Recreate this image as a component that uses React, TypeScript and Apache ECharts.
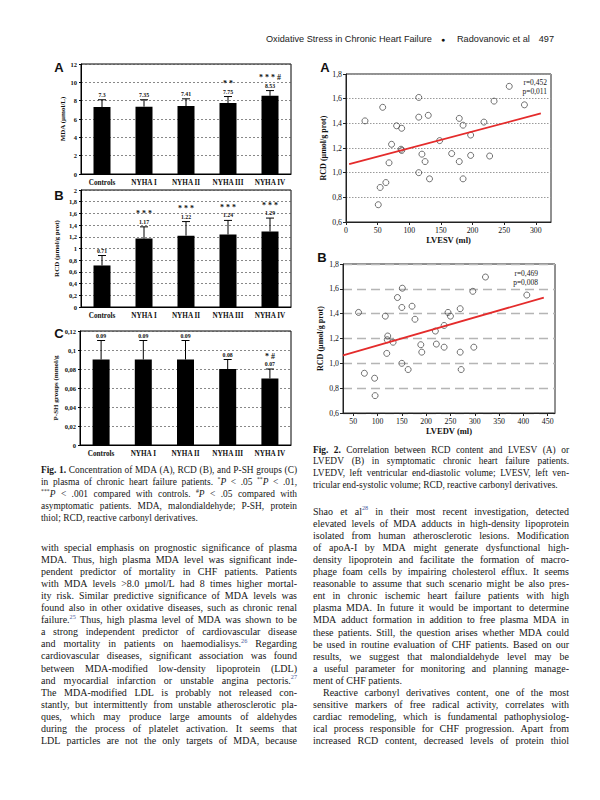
import React, { useEffect, useRef } from 'react';
import * as echarts from 'echarts';

// ---------- data ----------
const categories = ['Controls', 'NYHA I', 'NYHA II', 'NYHA III', 'NYHA IV'];

const mdaMean = [7.3, 7.35, 7.41, 7.75, 8.53];
const mdaErrTop = [8.1, 8.1, 8.2, 8.45, 9.1];
const mdaSig = ['', '', '', '* *', '* * * #'];
const mdaTicks = { max: 12, interval: 2 };

const rcdMean = [0.71, 1.17, 1.22, 1.24, 1.29];
const rcdErrTop = [0.88, 1.37, 1.46, 1.48, 1.52];
const rcdSig = ['', '* * *', '* * *', '* * *', '* * *'];
const rcdTicks = { max: 2, interval: 0.2 };

const pshMean = [0.09, 0.09, 0.09, 0.08, 0.07];
const pshErrTop = [0.11, 0.11, 0.11, 0.09, 0.08];
const pshSig = ['', '', '', '', '* #'];
const pshTicks = { max: 0.12, interval: 0.02 };

const lvesvX = [30, 58, 115, 115, 130, 80, 88, 72, 87, 88, 120, 68, 125, 115, 132, 148, 167, 179, 185, 179, 185, 197, 197, 218, 227, 234, 258, 282, 54, 63, 51];
const lvesvY = [1.42, 1.53, 1.61, 1.45, 1.465, 1.38, 1.36, 1.23, 1.19, 1.18, 1.15, 1.08, 1.09, 1.0, 0.95, 1.26, 1.155, 1.44, 1.385, 1.09, 0.95, 1.305, 1.14, 1.41, 1.135, 1.58, 1.7, 1.55, 0.88, 0.92, 0.74];
const fitAX = [5, 308];
const fitAY = [1.07, 1.48];
const statA = ['r=0,452', 'p=0,011'];

const lvedvX = [61, 116, 121, 120, 132, 119, 141, 151, 150, 171, 177, 150, 163, 189, 191, 219, 221, 237, 237, 245, 250, 270, 270, 272, 296, 298, 322, 407, 73, 94, 95];
const lvedvY = [1.41, 1.38, 1.22, 1.19, 1.17, 1.08, 1.53, 1.605, 1.45, 1.46, 1.355, 1.0, 0.95, 1.15, 1.09, 1.26, 1.155, 1.305, 1.13, 1.41, 1.38, 1.44, 1.09, 0.95, 1.58, 1.13, 1.695, 1.55, 0.92, 0.88, 0.74];
const fitBX = [29, 442];
const fitBY = [1.064, 1.53];
const statB = ['r=0,469', 'p=0,008'];

// ---------- page text ----------
const headerTitle = 'Oxidative Stress in Chronic Heart Failure';
const headerAuthors = 'Radovanovic et al';
const headerPage = '497';

const fig1Caption = [
  '|Fig.| |1.| Concentration of MDA (A), RCD (B), and P-SH groups (C)',
  'in plasma of chronic heart failure patients. ^*^~P~ < .05 ^**^~P~ < .01,',
  '^***^~P~ < .001 compared with controls. ^#^~P~ < .05 compared with',
  'asymptomatic patients. MDA, malondialdehyde; P-SH, protein',
  'thiol; RCD, reactive carbonyl derivatives.$',
];

const fig2Caption = [
  '|Fig.| |2.| Correlation between RCD content and LVESV (A) or',
  'LVEDV (B) in symptomatic chronic heart failure patients.',
  'LVEDV, left ventricular end-diastolic volume; LVESV, left ven-',
  'tricular end-systolic volume; RCD, reactive carbonyl derivatives.$',
];

const leftBody = [
  'with special emphasis on prognostic significance of plasma',
  'MDA. Thus, high plasma MDA level was significant inde-',
  'pendent predictor of mortality in CHF patients. Patients',
  'with MDA levels >8.0 µmol/L had 8 times higher mortal-',
  'ity risk. Similar predictive significance of MDA levels was',
  'found also in other oxidative diseases, such as chronic renal',
  'failure.^25^ Thus, high plasma level of MDA was shown to be',
  'a strong independent predictor of cardiovascular disease',
  'and mortality in patients on haemodialisys.^26^ Regarding',
  'cardiovascular diseases, significant association was found',
  'between MDA-modified low-density lipoprotein (LDL)',
  'and myocardial infarction or unstable angina pectoris.^27^',
  'The MDA-modified LDL is probably not released con-',
  'stantly, but intermittently from unstable atherosclerotic pla-',
  'ques, which may produce large amounts of aldehydes',
  'during the process of platelet activation. It seems that',
  'LDL particles are not the only targets of MDA, because',
];

const rightBody = [
  'Shao et al^28^ in their most recent investigation, detected',
  'elevated levels of MDA adducts in high-density lipoprotein',
  'isolated from human atherosclerotic lesions. Modification',
  'of apoA-I by MDA might generate dysfunctional high-',
  'density lipoprotein and facilitate the formation of macro-',
  'phage foam cells by impairing cholesterol efflux. It seems',
  'reasonable to assume that such scenario might be also pres-',
  'ent in chronic ischemic heart failure patients with high',
  'plasma MDA. In future it would be important to determine',
  'MDA adduct formation in addition to free plasma MDA in',
  'these patients. Still, the question arises whether MDA could',
  'be used in routine evaluation of CHF patients. Based on our',
  'results, we suggest that malondialdehyde level may be',
  'a useful parameter for monitoring and planning manage-',
  'ment of CHF patients.$',
  '@Reactive carbonyl derivatives content, one of the most',
  'sensitive markers of free radical activity, correlates with',
  'cardiac remodeling, which is fundamental pathophysiolog-',
  'ical process responsible for CHF progression. Apart from',
  'increased RCD content, decreased levels of protein thiol',
];

// ---------- helpers ----------
const SERIF = "'Liberation Serif', 'Times New Roman', Times, serif";
const SANS = "'Liberation Sans', Arial, Helvetica, sans-serif";
const INK = '#161616';
const LINK = '#4b5a9e';

let mctx: CanvasRenderingContext2D | null = null;
function measureW(text: string, size: number, weight = 'normal', style = 'normal', family = SERIF) {
  if (!mctx) mctx = document.createElement('canvas').getContext('2d');
  if (!mctx) return text.length * size * 0.45;
  mctx.font = `${style} ${weight} ${size}px ${family}`;
  return mctx.measureText(text).width;
}

type Seg = { t: string; sup: boolean; it: boolean; b: boolean };
function parseWord(w: string): Seg[] {
  const segs: Seg[] = [];
  let sup = false, it = false, b = false, cur = '';
  for (const ch of w) {
    if (ch === '^' || ch === '~' || ch === '|') {
      if (cur) segs.push({ t: cur, sup, it, b });
      cur = '';
      if (ch === '^') sup = !sup;
      else if (ch === '~') it = !it;
      else b = !b;
    } else cur += ch;
  }
  if (cur) segs.push({ t: cur, sup, it, b });
  return segs;
}
const SUP = 0.62;
function segSize(s: Seg, size: number) { return s.sup ? size * SUP : size; }
function segW(s: Seg, size: number) {
  return measureW(s.t, segSize(s, size), s.b ? 'bold' : 'normal', s.it ? 'italic' : 'normal');
}

function textEl(x: number, y: number, text: string, size: number, opts: any = {}) {
  const align = opts.align || 'left';
  const valign = opts.valign || 'middle';
  return {
    type: 'text',
    x,
    y,
    silent: true,
    rotation: opts.rotation || 0,
    style: {
      text,
      fontSize: size,
      fontFamily: opts.family || SERIF,
      fontWeight: opts.weight || 'normal',
      fontStyle: opts.style || 'normal',
      fill: opts.fill || INK,
      textAlign: align,
      textVerticalAlign: valign,
      align,
      verticalAlign: valign,
    },
  };
}

function layoutLines(lines: string[], x0: number, x1: number, y0: number, lh: number, size: number, out: any[]) {
  lines.forEach((raw, li) => {
    let line = raw;
    let indent = 0;
    let justify = true;
    if (line.startsWith('@')) { indent = 10; line = line.slice(1); }
    if (line.endsWith('$')) { justify = false; line = line.slice(0, -1); }
    const words = line.split(' ').filter((w) => w.length).map(parseWord);
    const widths = words.map((ws) => ws.reduce((a, s) => a + segW(s, size), 0));
    const total = widths.reduce((a, b) => a + b, 0);
    const sp = measureW(' ', size);
    const avail = x1 - x0 - indent;
    const gap = justify && words.length > 1 ? (avail - total) / (words.length - 1) : sp;
    let x = x0 + indent;
    const y = y0 + li * lh;
    words.forEach((ws) => {
      ws.forEach((s) => {
        const isRef = s.sup && /^\d+$/.test(s.t);
        out.push(
          textEl(x, s.sup ? y - size * 0.34 : y, s.t, segSize(s, size), {
            weight: s.b ? 'bold' : 'normal',
            style: s.it ? 'italic' : 'normal',
            fill: isRef ? LINK : INK,
          })
        );
        x += segW(s, size);
      });
      x += gap;
    });
  });
}

const commaFmt = (v: number) => String(parseFloat(Number(v).toFixed(4))).replace('.', ',');

function barPanel(g: number, mean: number[], errTop: number[], sig: string[], ticks: { max: number; interval: number }, name: string, nameGap: number) {
  const xAxis = {
    type: 'category',
    gridIndex: g,
    data: categories,
    axisLine: { show: true, lineStyle: { color: '#000', width: 1 } },
    axisTick: { show: false },
    axisLabel: { interval: 0, margin: 5, fontFamily: SERIF, fontWeight: 'bold', fontSize: 7.2, color: '#111' },
  };
  const yAxis = {
    type: 'value',
    gridIndex: g,
    min: 0,
    max: ticks.max,
    interval: ticks.interval,
    name,
    nameLocation: 'middle',
    nameGap,
    nameTextStyle: { fontFamily: SERIF, fontWeight: 'bold', fontSize: 7, color: '#111' },
    axisLine: { show: true, lineStyle: { color: '#000', width: 1 } },
    axisTick: { show: true, length: 2, lineStyle: { color: '#000' } },
    axisLabel: { margin: 4, fontFamily: SERIF, fontWeight: 'bold', fontSize: 6.5, color: '#111', formatter: commaFmt },
    splitLine: { show: true, lineStyle: { color: '#555', type: [2, 2], width: 0.7 } },
  };
  const series = [
    {
      type: 'bar',
      xAxisIndex: g,
      yAxisIndex: g,
      data: mean,
      barWidth: 17,
      itemStyle: { color: '#000' },
      silent: true,
    },
    {
      type: 'custom',
      xAxisIndex: g,
      yAxisIndex: g,
      silent: true,
      z: 5,
      data: mean.map((m, i) => [i, m, errTop[i]]),
      encode: { x: 0, y: [1, 2] },
      renderItem: (params: any, api: any) => {
        const i = api.value(0);
        const p0 = api.coord([i, api.value(1)]);
        const p1 = api.coord([i, api.value(2)]);
        const idx = params.dataIndex;
        const children: any[] = [
          { type: 'line', shape: { x1: p0[0], y1: p0[1], x2: p1[0], y2: p1[1] }, style: { stroke: '#000', lineWidth: 1 } },
          { type: 'line', shape: { x1: p1[0] - 4, y1: p1[1], x2: p1[0] + 4, y2: p1[1] }, style: { stroke: '#000', lineWidth: 1 } },
          {
            type: 'text',
            x: p1[0],
            y: p1[1] - 5,
            style: { text: String(mean[idx]), fontSize: 5.8, fontFamily: SERIF, fontWeight: 'bold', fill: '#111', textAlign: 'center', textVerticalAlign: 'middle', align: 'center', verticalAlign: 'middle' },
          },
        ];
        if (sig[idx]) {
          children.push({
            type: 'text',
            x: p1[0],
            y: p1[1] - 13,
            style: { text: sig[idx], fontSize: 8, fontFamily: SERIF, fontWeight: 'bold', fill: '#111', textAlign: 'center', textVerticalAlign: 'middle', align: 'center', verticalAlign: 'middle' },
          });
        }
        return { type: 'group', children };
      },
    },
  ];
  return { xAxis, yAxis, series };
}

function scatterAxes(g: number, xMin: number, xMax: number, xOpts: any, xName: string, dashed: boolean) {
  const xAxis = {
    type: 'value',
    gridIndex: g,
    min: xMin,
    max: xMax,
    ...xOpts,
    name: xName,
    nameLocation: 'middle',
    nameGap: 13,
    nameTextStyle: { fontFamily: SERIF, fontWeight: 'bold', fontSize: 8.5, color: '#111' },
    axisLine: { show: true, lineStyle: { color: '#222', width: 1 } },
    axisTick: { show: true, length: 3, lineStyle: { color: '#222' } },
    axisLabel: {
      margin: 4,
      fontFamily: SERIF,
      fontSize: 7.8,
      color: '#111',
      showMinLabel: xMin % 50 === 0,
      showMaxLabel: false,
      formatter: (v: number) => (Math.abs(v % 50) < 1e-6 ? String(v) : ''),
    },
    splitLine: { show: false },
  };
  const yAxis = {
    type: 'value',
    gridIndex: g,
    min: 0.6,
    max: 1.8,
    interval: 0.2,
    name: 'RCD (µmol/g prot)',
    nameLocation: 'middle',
    nameGap: 19,
    nameTextStyle: { fontFamily: SERIF, fontWeight: 'bold', fontSize: 8, color: '#111' },
    axisLine: { show: true, lineStyle: { color: '#222', width: 1 } },
    axisTick: { show: true, length: 3, lineStyle: { color: '#222' } },
    axisLabel: { margin: 4, fontFamily: SERIF, fontSize: 7.8, color: '#111', formatter: (v: number) => Number(v).toFixed(1).replace('.', ',') },
    splitLine: {
      show: true,
      lineStyle: dashed ? { color: '#b5b5b5', type: [9, 5], width: 1.3 } : { color: '#9a9a9a', type: [1.5, 1.5], width: 1 },
    },
  };
  return { xAxis, yAxis };
}

function buildOption() {
  const pA = barPanel(0, mdaMean, mdaErrTop, mdaSig, mdaTicks, 'MDA (µmol/L)', 13);
  const pB = barPanel(1, rcdMean, rcdErrTop, rcdSig, rcdTicks, 'RCD (µmol/g prot)', 21);
  const pC = barPanel(2, pshMean, pshErrTop, pshSig, pshTicks, 'P-SH groups (mmol/g', 21);
  const sA = scatterAxes(3, 0, 324, { interval: 50 }, 'LVESV (ml)', false);
  const sB = scatterAxes(4, 29, 465, { splitNumber: 9 }, 'LVEDV (ml)', true);

  const scatterStyle = { color: 'rgba(0,0,0,0)', borderColor: '#3a3a3a', borderWidth: 0.9 };
  const scatterSeries = [
    { type: 'scatter', xAxisIndex: 3, yAxisIndex: 3, data: lvesvX.map((x, i) => [x, lvesvY[i]]), symbol: 'circle', symbolSize: 6, itemStyle: scatterStyle, silent: true },
    { type: 'line', xAxisIndex: 3, yAxisIndex: 3, data: fitAX.map((x, i) => [x, fitAY[i]]), symbol: 'none', lineStyle: { color: '#e42b2b', width: 1.8 }, silent: true },
    { type: 'scatter', xAxisIndex: 4, yAxisIndex: 4, data: lvedvX.map((x, i) => [x, lvedvY[i]]), symbol: 'circle', symbolSize: 6, itemStyle: scatterStyle, silent: true },
    { type: 'line', xAxisIndex: 4, yAxisIndex: 4, data: fitBX.map((x, i) => [x, fitBY[i]]), symbol: 'none', lineStyle: { color: '#e42b2b', width: 1.8 }, silent: true },
  ];

  const g: any[] = [];
  // running header
  const hTarget = 166;
  const hs = (10 * hTarget) / measureW(headerTitle, 10, 'normal', 'normal', SANS);
  g.push(textEl(266, 39, headerTitle, hs, { family: SANS, fill: '#222' }));
  g.push(textEl(443, 39, '●', hs * 0.75, { family: SANS, align: 'center', fill: '#111' }));
  g.push(textEl(457, 39, headerAuthors, hs, { family: SANS, fill: '#222' }));
  g.push(textEl(554, 39, headerPage, hs, { family: SANS, align: 'right', fill: '#222' }));

  // panel letters
  const letter = (x: number, y: number, t: string) => textEl(x, y, t, 13, { family: SANS, weight: 'bold', align: 'center', fill: '#111' });
  g.push(letter(59, 67, 'A'), letter(59, 195, 'B'), letter(59, 333, 'C'));
  g.push(letter(325, 67, 'A'), letter(322, 257, 'B'));

  // statistics annotations
  g.push(textEl(547, 82, statA[0], 7.5, { align: 'right' }), textEl(547, 91.5, statA[1], 7.5, { align: 'right' }));
  g.push(textEl(538, 273, statB[0], 7.5, { align: 'right' }), textEl(538, 282.5, statB[1], 7.5, { align: 'right' }));

  // captions and body
  layoutLines(fig1Caption, 41, 297, 470, 11.9, 9.4, g);
  layoutLines(leftBody, 41, 297, 547, 12.1, 10, g);
  layoutLines(fig2Caption, 313, 569, 449.5, 11.9, 9.4, g);
  layoutLines(rightBody, 313, 569, 511, 12.1, 10, g);

  const gridBase = { show: true, borderColor: '#000', borderWidth: 1, backgroundColor: 'rgba(0,0,0,0)', containLabel: false };
  return {
    animation: false,
    backgroundColor: '#fff',
    grid: [
      { ...gridBase, left: 81, top: 64, width: 210, height: 110 },
      { ...gridBase, left: 81, top: 190, width: 210, height: 117 },
      { ...gridBase, left: 80, top: 331, width: 211, height: 114 },
      { ...gridBase, left: 346, top: 74, width: 205, height: 148, borderColor: '#222' },
      { ...gridBase, left: 343, top: 264, width: 212, height: 149, borderColor: '#222' },
    ],
    xAxis: [pA.xAxis, pB.xAxis, pC.xAxis, sA.xAxis, sB.xAxis],
    yAxis: [pA.yAxis, pB.yAxis, pC.yAxis, sA.yAxis, sB.yAxis],
    series: [...pA.series, ...pB.series, ...pC.series, ...scatterSeries],
    graphic: { elements: g },
  };
}

export default function App() {
  const ref = useRef<HTMLDivElement>(null);
  useEffect(() => {
    if (!ref.current) return;
    const chart = echarts.init(ref.current, null, { renderer: 'svg', width: 600, height: 800 });
    chart.setOption(buildOption() as any);
    return () => chart.dispose();
  }, []);
  return (
    <div
      ref={ref}
      style={{ position: 'absolute', left: 0, top: 0, width: 600, height: 800, background: '#fff' }}
    />
  );
}
